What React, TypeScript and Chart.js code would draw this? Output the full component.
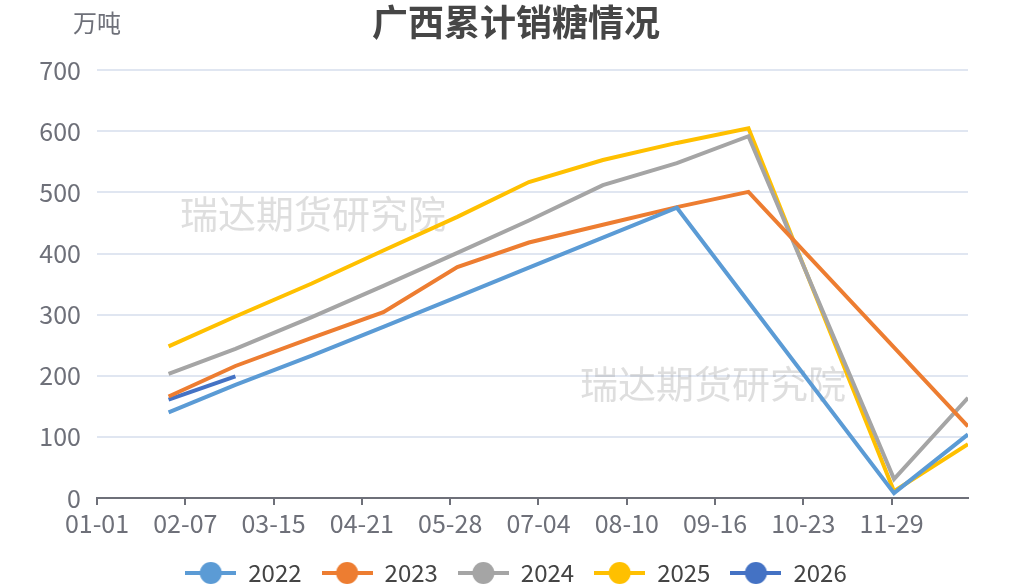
import React, { useEffect, useRef } from 'react';
import { Chart, registerables } from 'chart.js';

Chart.register(...registerables);

const FONT = '"Noto Sans CJK SC", "Noto Sans", sans-serif';

// axis tick labels (calendar day labels, every 37 days)
const tickLabels = ['01-01', '02-07', '03-15', '04-21', '05-28', '07-04', '08-10', '09-16', '10-23', '11-29'];
const yTicks = [0, 100, 200, 300, 400, 500, 600, 700];

// month-end observation dates
const monthEnds = ['01-31', '02-28', '03-31', '04-30', '05-31', '06-30', '07-31', '08-31', '09-30', '10-31', '11-30', '12-31'];

// cumulative sugar sales (万吨)
const years = ['2022', '2023', '2024', '2025', '2026'];
const s2022 = [140, 185, 233, 280, 329, 377, 426, 475, null, null, 8, 104];
const s2023 = [166, 216, 262, 304, 378, 418, 447, 476, 501, null, null, 117];
const s2024 = [203, 244, 296, 347, 401, 454, 512, 548, 592, null, 31, 164];
const s2025 = [248, 297, 351, 405, 460, 517, 553, 581, 605, null, 11, 88];
const s2026 = [161, 199, null, null, null, null, null, null, null, null, null, null];
const colors = ['#5B9BD5', '#ED7D31', '#A5A5A5', '#FFC000', '#4472C4'];

const monthLens = [31, 29, 31, 30, 31, 30, 31, 31, 30, 31, 30, 31];
function dayOfYear(md: string): number {
  const [m, d] = md.split('-').map(Number);
  let n = 0;
  for (let i = 0; i < m - 1; i++) n += monthLens[i];
  return n + d - 1;
}

function legendIcon(color: string): HTMLCanvasElement {
  const c = document.createElement('canvas');
  c.width = 51;
  c.height = 24;
  const ctx = c.getContext('2d')!;
  ctx.strokeStyle = color;
  ctx.lineWidth = 4;
  ctx.beginPath();
  ctx.moveTo(0, 12);
  ctx.lineTo(51, 12);
  ctx.stroke();
  ctx.fillStyle = color;
  ctx.beginPath();
  ctx.arc(25.5, 12, 11, 0, Math.PI * 2);
  ctx.fill();
  return c;
}

const extraText = {
  id: 'extraText',
  beforeDatasetsDraw(chart: any) {
    const { ctx, chartArea } = chart;
    ctx.save();
    ctx.font = `38px ${FONT}`;
    ctx.fillStyle = 'rgba(160,160,160,0.35)';
    ctx.textAlign = 'center';
    ctx.textBaseline = 'middle';
    ctx.fillText('瑞达期货研究院', chartArea.left + 216, chartArea.top + 143);
    ctx.fillText('瑞达期货研究院', chartArea.left + 616, chartArea.top + 313);
    ctx.restore();
  },
  afterDraw(chart: any) {
    const { ctx, chartArea } = chart;
    ctx.save();
    ctx.font = `24px ${FONT}`;
    ctx.fillStyle = '#6E7079';
    ctx.textAlign = 'center';
    ctx.textBaseline = 'middle';
    ctx.fillText('万吨', chartArea.left, 23);
    ctx.restore();
  },
};

export default function App() {
  const ref = useRef<HTMLCanvasElement | null>(null);

  useEffect(() => {
    if (!ref.current) return;
    const series = [s2022, s2023, s2024, s2025, s2026];
    const datasets = series.map((vals, i) => ({
      label: years[i],
      data: monthEnds.map((d, j) => ({ x: dayOfYear(d), y: vals[j] })),
      borderColor: colors[i],
      backgroundColor: colors[i],
      borderWidth: 4,
      pointRadius: 0,
      pointHoverRadius: 0,
      pointStyle: legendIcon(colors[i]),
      spanGaps: true,
      tension: 0,
    }));

    const chart = new Chart(ref.current, {
      type: 'line',
      data: { datasets } as any,
      plugins: [extraText],
      options: {
        animation: false,
        responsive: false,
        events: [],
        layout: { padding: { left: 24, right: 2, top: 0, bottom: 0 } },
        scales: {
          x: {
            type: 'linear',
            min: 0,
            max: 365,
            afterBuildTicks: (scale: any) => {
              scale.ticks = tickLabels.map((l) => ({ value: dayOfYear(l) }));
            },
            ticks: {
              autoSkip: false,
              maxRotation: 0,
              padding: 3,
              color: '#6E7079',
              font: { family: FONT, size: 25 },
              callback: (_v: any, i: number) => tickLabels[i],
            },
            grid: {
              display: true,
              drawOnChartArea: false,
              drawTicks: true,
              tickLength: 7,
              color: '#6E7079',
              lineWidth: 2,
            },
            border: { display: true, color: '#6E7079', width: 2 },
          },
          y: {
            min: 0,
            max: 700,
            afterBuildTicks: (scale: any) => {
              scale.ticks = yTicks.map((v) => ({ value: v }));
            },
            afterFit: (scale: any) => {
              scale.width = 73;
            },
            ticks: {
              padding: 16,
              color: '#6E7079',
              font: { family: FONT, size: 25 },
            },
            grid: { color: '#E0E6F1', lineWidth: 2, drawTicks: false },
            border: { display: false },
          },
          yRight: {
            position: 'right',
            min: 0,
            max: 1,
            afterFit: (scale: any) => {
              scale.width = 40;
            },
            ticks: { display: false },
            grid: { display: false, drawTicks: false },
            border: { display: false },
          },
        },
        plugins: {
          title: {
            display: true,
            text: '广西累计销糖情况',
            color: '#464646',
            font: { family: FONT, size: 36, weight: 'bold' },
            padding: { top: 1, bottom: 26 },
          },
          legend: {
            position: 'bottom',
            maxHeight: 46,
            labels: {
              usePointStyle: true,
              pointStyleWidth: 51,
              boxHeight: 24,
              padding: 20,
              color: '#444',
              font: { family: FONT, size: 24 },
            },
          },
          tooltip: { enabled: false },
        },
      } as any,
    });
    return () => chart.destroy();
  }, []);

  return (
    <div style={{ position: 'absolute', left: 0, top: 0, width: 1010, height: 587, background: '#fff' }}>
      <canvas ref={ref} width={1010} height={587} style={{ width: 1010, height: 587, display: 'block' }} />
    </div>
  );
}
